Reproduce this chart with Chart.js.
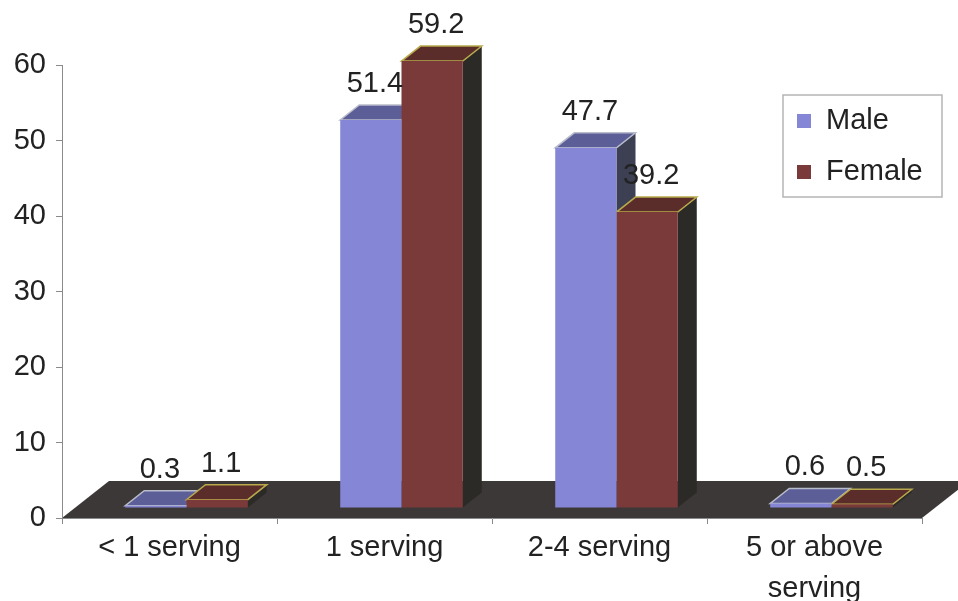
<!DOCTYPE html>
<html>
<head>
<meta charset="utf-8">
<script src="https://cdn.jsdelivr.net/npm/chart.js@4.4.1/dist/chart.umd.min.js"></script>
<style>
  html, body { margin: 0; padding: 0; background: #fff; }
  #wrap { width: 958px; height: 601px; }
</style>
</head>
<body>
<div id="wrap"><canvas id="myChart" width="958" height="601"></canvas></div>
<script>
// data
var categories = [["< 1 serving"], ["1 serving"], ["2-4 serving"], ["5 or above", "serving"]];
var maleValues = [0.3, 51.4, 47.7, 0.6];
var femaleValues = [1.1, 59.2, 39.2, 0.5];
var seriesNames = ["Male", "Female"];
var yTicks = [0, 10, 20, 30, 40, 50, 60];

// colours per series: front, top, side, top edge
var frontColors = ["#8686d6", "#7a3a3a"];
var topColors = ["#5c5e98", "#5a2c2a"];
var sideColors = ["#3c4052", "#2c2a26"];
var edgeColors = ["#b9bccb", "#b8aa4c"];

var FONT = "'Liberation Sans', Arial, sans-serif";
var FONT_SIZE = 29;
var depth = { x: 19, y: -15 };   // bar depth (3d look)
var shift = { x: 17, y: -10 };   // bars sit inside the floor
var floorDepth = { x: 47, y: -37 };

function poly(ctx, pts, fill, stroke) {
  ctx.beginPath();
  ctx.moveTo(pts[0][0], pts[0][1]);
  for (var i = 1; i < pts.length; i++) ctx.lineTo(pts[i][0], pts[i][1]);
  ctx.closePath();
  ctx.fillStyle = fill;
  ctx.fill();
  if (stroke) {
    ctx.strokeStyle = stroke;
    ctx.lineWidth = 1.5;
    ctx.stroke();
  }
}

var threeD = {
  id: "threeD",
  beforeDraw: function(chart) {
    // dark floor
    var ctx = chart.ctx;
    var a = chart.chartArea;
    poly(ctx, [
      [a.left, a.bottom],
      [a.right, a.bottom],
      [a.right + floorDepth.x, a.bottom + floorDepth.y],
      [a.left + floorDepth.x, a.bottom + floorDepth.y]
    ], "#3c3838");
  },
  beforeDatasetsDraw: function(chart) {
    var ctx = chart.ctx;
    ctx.save();
    ctx.translate(shift.x, shift.y);
    for (var i = 0; i < categories.length; i++) {
      for (var d = 0; d < chart.data.datasets.length; d++) {
        var bar = chart.getDatasetMeta(d).data[i];
        var l = bar.x - bar.width / 2;
        var r = bar.x + bar.width / 2;
        var t = bar.y;
        var b = bar.base;
        poly(ctx, [[r, t], [r + depth.x, t + depth.y], [r + depth.x, b + depth.y], [r, b]], sideColors[d]);
        poly(ctx, [[l, t], [r, t], [r + depth.x, t + depth.y], [l + depth.x, t + depth.y]], topColors[d], edgeColors[d]);
      }
    }
    ctx.restore();
    // front faces get drawn by chart.js with the same shift
    ctx.save();
    ctx.translate(shift.x, shift.y);
  },
  afterDatasetsDraw: function(chart) {
    var ctx = chart.ctx;
    ctx.restore();
    // value labels
    ctx.save();
    ctx.font = FONT_SIZE + "px " + FONT;
    ctx.fillStyle = "#222";
    ctx.textAlign = "center";
    ctx.textBaseline = "middle";
    chart.data.datasets.forEach(function(ds, d) {
      chart.getDatasetMeta(d).data.forEach(function(bar, i) {
        ctx.fillText(ds.data[i].toFixed(1), bar.x + shift.x + 4, bar.y + shift.y - 36);
      });
    });
    ctx.restore();
  },
  afterDraw: function(chart) {
    // legend box
    var ctx = chart.ctx;
    ctx.save();
    ctx.fillStyle = "#fff";
    ctx.fillRect(783, 95, 159, 102);
    ctx.strokeStyle = "#b5b5b5";
    ctx.lineWidth = 1.5;
    ctx.strokeRect(783, 95, 159, 102);
    ctx.font = FONT_SIZE + "px " + FONT;
    ctx.textBaseline = "middle";
    ctx.textAlign = "left";
    seriesNames.forEach(function(name, k) {
      var y = 121 + k * 51;
      ctx.fillStyle = frontColors[k];
      ctx.fillRect(797, y - 7, 14, 14);
      ctx.fillStyle = "#222";
      ctx.fillText(name, 826, y);
    });
    ctx.restore();
  }
};

var ctx = document.getElementById("myChart").getContext("2d");
var myChart = new Chart(ctx, {
  type: "bar",
  data: {
    labels: categories,
    datasets: [
      {
        label: seriesNames[0],
        data: maleValues,
        backgroundColor: frontColors[0],
        borderWidth: 0
      },
      {
        label: seriesNames[1],
        data: femaleValues,
        backgroundColor: frontColors[1],
        borderWidth: 0
      }
    ]
  },
  options: {
    responsive: false,
    animation: false,
    devicePixelRatio: 1,
    layout: { padding: { top: 65, right: 36, left: 0, bottom: 0 } },
    datasets: { bar: { barPercentage: 1, categoryPercentage: 0.57 } },
    plugins: {
      legend: { display: false },
      tooltip: { enabled: false }
    },
    scales: {
      x: {
        afterFit: function(scale) { scale.height = 83; },
        grid: { drawOnChartArea: false, color: "#8a8a8a", tickLength: 6 },
        border: { color: "#8a8a8a", width: 1 },
        ticks: {
          color: "#222",
          font: { family: FONT, size: FONT_SIZE, lineHeight: 1.4 },
          padding: 4,
          maxRotation: 0,
          autoSkip: false
        }
      },
      y: {
        min: yTicks[0],
        max: yTicks[yTicks.length - 1],
        afterFit: function(scale) { scale.width = 62; },
        afterBuildTicks: function(scale) {
          scale.ticks = yTicks.map(function(v) { return { value: v }; });
        },
        grid: { drawOnChartArea: false, color: "#8a8a8a", tickLength: 6 },
        border: { color: "#8a8a8a", width: 1 },
        ticks: {
          color: "#222",
          font: { family: FONT, size: FONT_SIZE },
          padding: 10
        }
      }
    }
  },
  plugins: [threeD]
});
</script>
</body>
</html>
